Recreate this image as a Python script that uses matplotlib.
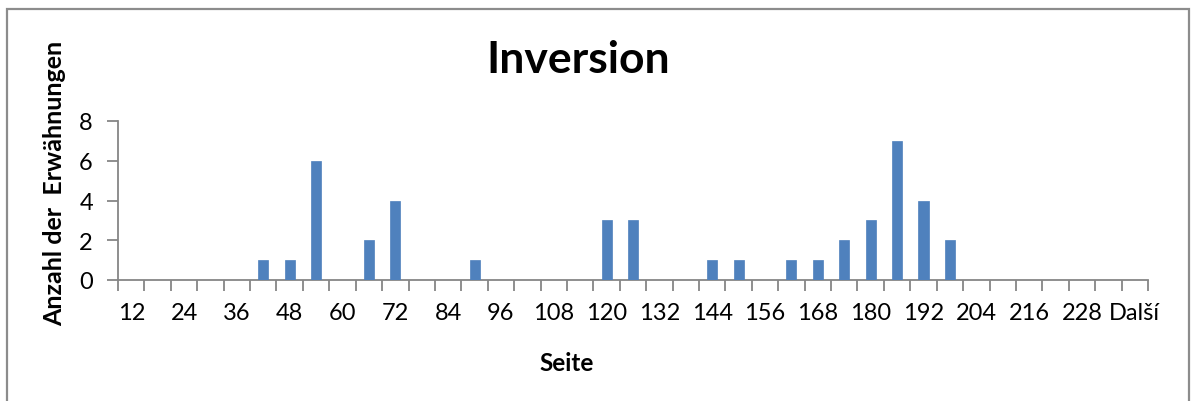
import matplotlib
matplotlib.use("Agg")
import matplotlib.pyplot as plt
from matplotlib.patches import Rectangle

plt.rcParams['font.family'] = ['Lato', 'DejaVu Sans']

categories = [str(v) for v in range(12, 235, 6)] + ["Další"]
counts_by_page = {42: 1, 48: 1, 54: 6, 66: 2, 72: 4, 90: 1, 120: 3, 126: 3,
                  144: 1, 150: 1, 162: 1, 168: 1, 174: 2, 180: 3, 186: 7,
                  192: 4, 198: 2}
values = [counts_by_page.get(int(c), 0) if c != "Další" else 0 for c in categories]
yticks = [0, 2, 4, 6, 8]

title = "Inversion"
xlabel = "Seite"
ylabel = "Anzahl der  Erwähnungen"

fig = plt.figure(figsize=(11.91, 4.02), dpi=100)
ax = fig.add_axes([118/1191, 1-281/402, (1148-118)/1191, (281-122)/402])

grey = "#868686"
x = list(range(len(categories)))
ax.bar(x, values, width=0.38, color="#4f81bd", edgecolor="#4f81bd", linewidth=0.5, zorder=3)

ax.set_xlim(-0.5, len(categories) - 0.5)
ax.set_ylim(0, 8)
ax.set_yticks(yticks)
ax.set_yticklabels([str(v) for v in yticks], fontsize=17)

ax.set_xticks(x[::2])
ax.set_xticklabels(categories[::2], fontsize=17)
ax.set_xticks([i - 0.5 for i in range(len(categories) + 1)], minor=True)
ax.tick_params(axis='x', which='major', length=0, pad=16)
ax.tick_params(axis='x', which='minor', length=8, width=1.3, color=grey)
ax.tick_params(axis='y', which='major', length=8, width=1.3, color=grey, pad=10)

for s in ['top', 'right']:
    ax.spines[s].set_visible(False)
for s in ['left', 'bottom']:
    ax.spines[s].set_color(grey)
    ax.spines[s].set_linewidth(1.3)

fig.text(578/1191, 1-60/402, title, fontsize=32, fontweight='bold', ha='center', va='center')
fig.text(567/1191, 1-364/402, xlabel, fontsize=17.5, fontweight='bold', ha='center', va='center')
fig.text(55/1191, 1-183/402, ylabel, fontsize=18, fontweight='bold', ha='center', va='center', rotation=90)

fig.add_artist(Rectangle((6.5/1191, -0.05), (1189-6.5)/1191, 1-9.5/402+0.05,
                         transform=fig.transFigure, fill=False, edgecolor="#8c8c8c", linewidth=1.6))

fig.savefig("out.png", dpi=100)
